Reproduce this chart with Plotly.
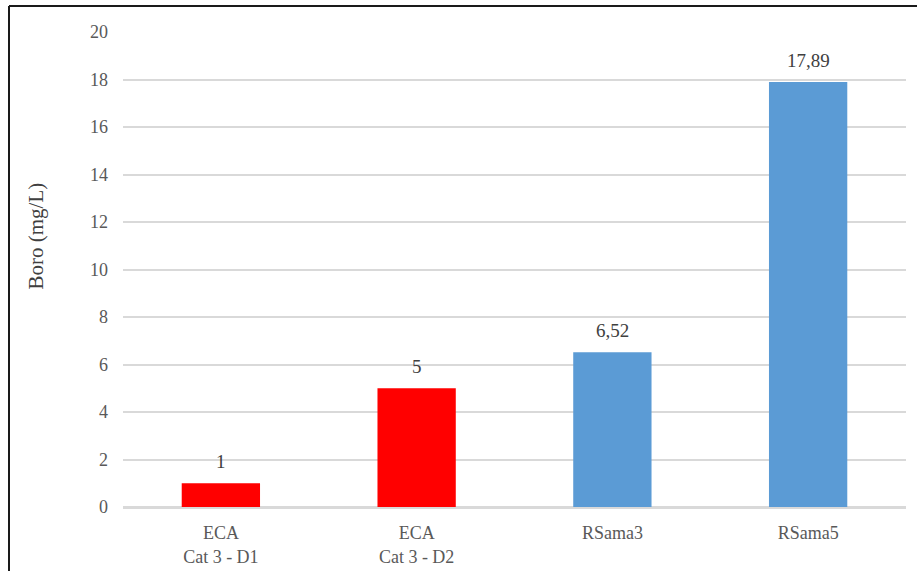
import plotly.graph_objects as go

# Boron concentration by sample / regulatory limit
categories = ["ECA<br>Cat 3 - D1", "ECA<br>Cat 3 - D2", "RSama3", "RSama5"]
values = [1, 5, 6.52, 17.89]
colors = ["#FF0000", "#FF0000", "#5B9BD5", "#5B9BD5"]
y_ticks = [0, 2, 4, 6, 8, 10, 12, 14, 16, 18, 20]
y_title = "Boro (mg/L)"


def fmt(v):
    s = f"{v:g}"
    return s.replace(".", ",")


W, H = 917, 571
ML, MR, MT, MB = 123, 11, 32, 64
TEXT = "#595959"
FONT = "Liberation Serif"

pw = W - ML - MR
ph = H - MT - MB


def px_x(p):
    return (p - ML) / pw


def px_y(p):
    return 1 - (p - MT) / ph


fig = go.Figure(
    go.Bar(
        x=categories,
        y=values,
        marker=dict(color=colors, line=dict(width=0)),
        width=0.4,
        hoverinfo="x+y",
    )
)

# value labels above bars
for c, v in zip(categories, values):
    fig.add_annotation(
        x=c, y=v, text=fmt(v), showarrow=False,
        yanchor="bottom", yshift=9,
        font=dict(family=FONT, size=19, color="#404040"),
    )

# y-axis title, placed as a rotated annotation
fig.add_annotation(
    xref="paper", yref="paper", x=px_x(36), y=px_y(236.5),
    text=y_title, textangle=-90, showarrow=False,
    xanchor="center", yanchor="middle",
    font=dict(family=FONT, size=21, color="#404040"),
)

# chart frame (left and top edges)
x_left = px_x(9)
y_top = px_y(6)
fig.add_shape(type="line", xref="paper", yref="paper",
              x0=x_left, x1=x_left, y0=-2, y1=y_top,
              line=dict(color="#1A1A1A", width=2))
fig.add_shape(type="line", xref="paper", yref="paper",
              x0=x_left, x1=2, y0=y_top, y1=y_top,
              line=dict(color="#1A1A1A", width=2))

fig.update_layout(
    width=W, height=H,
    margin=dict(l=ML, r=MR, t=MT, b=MB, autoexpand=False),
    paper_bgcolor="white", plot_bgcolor="white",
    font=dict(family=FONT, size=19, color=TEXT),
    showlegend=False,
    bargap=0.6,
    xaxis=dict(
        showgrid=False, showline=True, linecolor="#D9D9D9", linewidth=1.5,
        ticks="", ticklabelstandoff=9, automargin=False,
        tickfont=dict(family=FONT, size=18, color=TEXT),
    ),
    yaxis=dict(
        range=[0, 20], tickvals=y_ticks, ticktext=[str(t) for t in y_ticks],
        showgrid=True, gridcolor="#D9D9D9", gridwidth=1.5,
        zeroline=True, zerolinecolor="#D9D9D9", zerolinewidth=1.5,
        showline=False, ticks="", ticklabelstandoff=14, automargin=False,
        tickfont=dict(family=FONT, size=18, color=TEXT),
    ),
)

fig.write_html("out.html")
